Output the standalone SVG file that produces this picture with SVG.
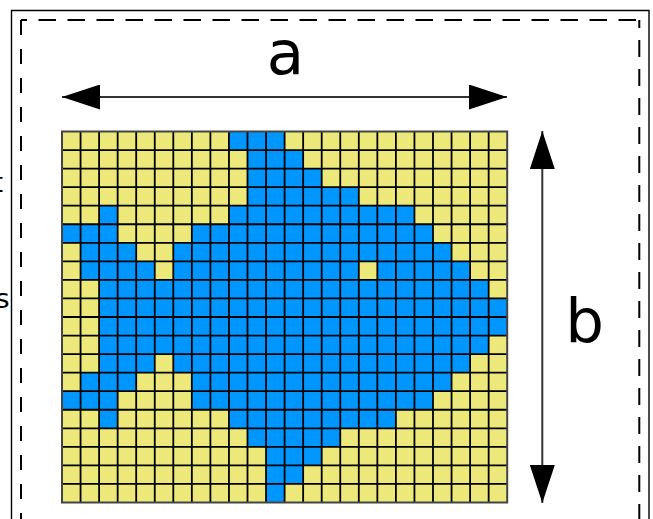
<svg xmlns="http://www.w3.org/2000/svg" width="653" height="519" viewBox="0 0 653 519">
<style>
.lbl{font-family:"DejaVu Sans","Liberation Sans",sans-serif;fill:#000}
.grid{fill:none;stroke:#000;stroke-width:1.8;vector-effect:non-scaling-stroke}
.dash{fill:none;stroke:#000;stroke-width:2}
.dim{stroke:#333;stroke-width:2;fill:none}
</style>
<defs>
<marker id="head" viewBox="0 0 38 25" refX="38" refY="12.5" markerWidth="38" markerHeight="25" markerUnits="userSpaceOnUse" orient="auto-start-reverse">
<path d="M0,0L38,12.5L0,25Z" fill="#000"/>
</marker>
</defs>
<rect width="653" height="519" fill="#fff"/>
<g id="frames">
<path d="M11.5,530V10.5H649V530" fill="none" stroke="#000" stroke-width="1.4"/>
<path class="dash" d="M21,20H639.3" stroke-dasharray="17.5 11.5" stroke-dashoffset="11.5"/>
<path class="dash" d="M21,20V530" stroke-dasharray="15 14"/>
<path class="dash" d="M639.3,20V530" stroke-dasharray="17 12" stroke-dashoffset="9"/>
</g>
<g id="cut-text">
<text class="lbl" x="3" y="192" font-size="27" text-anchor="end">t</text>
<text class="lbl" x="9.5" y="308" font-size="27" text-anchor="end">s</text>
</g>
<g id="grid" transform="translate(62,131.5) scale(18.55)">
<rect x="0" y="0" width="24" height="20" fill="#ede87a"/>
<path fill="#0096ff" d="M9,0H12V1H9Z M10,1H13V2H10Z M10,2H14V3H10Z M10,3H16V4H10Z M2,4H3V5H2Z M9,4H19V5H9Z M0,5H3V6H0Z M7,5H20V6H7Z M1,6H4V7H1Z M6,6H21V7H6Z M1,7H5V8H1Z M6,7H16V8H6Z M17,7H22V8H17Z M2,8H23V9H2Z M2,9H24V10H2Z M2,10H24V11H2Z M2,11H23V12H2Z M2,12H5V13H2Z M6,12H22V13H6Z M1,13H4V14H1Z M7,13H21V14H7Z M0,14H3V15H0Z M7,14H20V15H7Z M2,15H3V16H2Z M9,15H18V16H9Z M10,16H15V17H10Z M11,17H14V18H11Z M11,18H13V19H11Z M11,19H12V20H11Z"/>
<path class="grid" d="M1,0V20M2,0V20M3,0V20M4,0V20M5,0V20M6,0V20M7,0V20M8,0V20M9,0V20M10,0V20M11,0V20M12,0V20M13,0V20M14,0V20M15,0V20M16,0V20M17,0V20M18,0V20M19,0V20M20,0V20M21,0V20M22,0V20M23,0V20M0,1H24M0,2H24M0,3H24M0,4H24M0,5H24M0,6H24M0,7H24M0,8H24M0,9H24M0,10H24M0,11H24M0,12H24M0,13H24M0,14H24M0,15H24M0,16H24M0,17H24M0,18H24M0,19H24"/>
<rect x="0" y="0" width="24" height="20" fill="none" stroke="#444" stroke-width="2" vector-effect="non-scaling-stroke"/>
</g>
<g id="connectors">
<path class="dim" d="M62,97H507" marker-start="url(#head)" marker-end="url(#head)"/>
<path class="dim" d="M542.3,131V503" marker-start="url(#head)" marker-end="url(#head)"/>
</g>
<g id="label-a"><text class="lbl" x="285.5" y="74" font-size="61" text-anchor="middle">a</text></g>
<g id="label-b"><text class="lbl" x="584.5" y="341.5" font-size="61" text-anchor="middle">b</text></g>
</svg>
